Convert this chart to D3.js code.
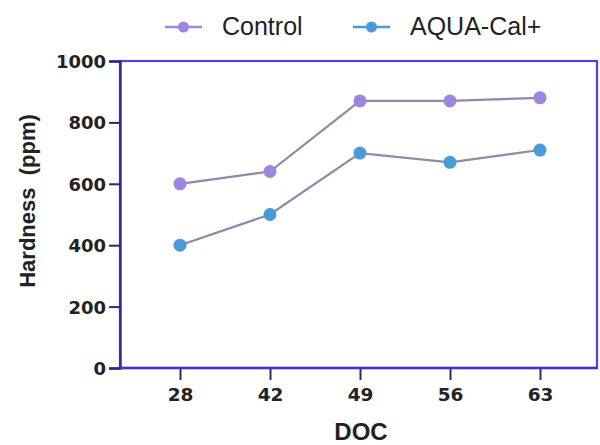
<!DOCTYPE html>
<html><head><meta charset="utf-8">
<script src="https://cdn.jsdelivr.net/npm/d3@7"></script>
<style>body{margin:0;background:#fff}svg{display:block}</style>
</head><body>
<svg id="c" width="600" height="445"></svg>
<script>
const categories = ["28","42","49","56","63"];
const control = [600, 640, 870, 870, 880];
const aqua = [400, 500, 700, 670, 710];
const yTicks = [0, 200, 400, 600, 800, 1000];
const seriesNames = ["Control", "AQUA-Cal+"];
const colors = ["#9b87e0", "#4a9ad8"];

const svg = d3.select("#c");
const m = {l:120, r:597, t:61, b:368};
const x = d3.scalePoint().domain(categories).range([180, 540]);
const y = d3.scaleLinear().domain([0,1000]).range([m.b, m.t]);
const tickFont = "DejaVu Sans, sans-serif";
const labFont = "Liberation Sans, Arial, sans-serif";

// frame
svg.append("rect").attr("x", m.l).attr("y", m.t).attr("width", m.r-m.l).attr("height", m.b-m.t)
  .attr("fill","#fff").attr("stroke","#4a44e0").attr("stroke-width",2.2);

// y axis
const ya = svg.append("g").attr("transform",`translate(${m.l},0)`)
  .call(d3.axisLeft(y).tickValues(yTicks).tickFormat(d3.format("d")).tickSize(11).tickPadding(3));
ya.select(".domain").attr("stroke","#2a2a9a").attr("stroke-width",2.4);
ya.selectAll(".tick line").attr("stroke","#2a2a6a").attr("stroke-width",2);
ya.selectAll("text").attr("font-family",tickFont).attr("font-weight","bold")
  .attr("font-size",18).attr("fill","#222").attr("dy","0.36em");

// x axis
const xa = svg.append("g").attr("transform",`translate(0,${m.b})`)
  .call(d3.axisBottom(x).tickSize(12).tickPadding(8));
xa.select(".domain").remove();
xa.selectAll(".tick line").attr("stroke","#2a2a6a").attr("stroke-width",2);
xa.selectAll("text").attr("font-family",tickFont).attr("font-weight","bold")
  .attr("font-size",18.5).attr("fill","#222");
svg.append("line").attr("x1",m.l).attr("x2",m.r).attr("y1",m.b).attr("y2",m.b)
  .attr("stroke","#3a36d0").attr("stroke-width",2.4);

// axis titles
svg.append("text").attr("x",361).attr("y",440).attr("text-anchor","middle")
  .attr("font-family",labFont).attr("font-weight","bold").attr("font-size",24).attr("fill","#222").text("DOC");
svg.append("text").attr("transform","translate(35,201) rotate(-90)").attr("text-anchor","middle")
  .style("white-space","pre")
  .attr("font-family",labFont).attr("font-weight","bold").attr("font-size",22).attr("fill","#222").text("Hardness  (ppm)");

// series
const data = [control, aqua];
const line = d3.line().x((d,i)=>x(categories[i])).y(d=>y(d));
data.forEach((s,k)=>{
  svg.append("path").datum(s).attr("d",line).attr("fill","none").attr("stroke","#8c8aa8").attr("stroke-width",2.2);
  svg.selectAll(null).data(s).enter().append("circle")
    .attr("cx",(d,i)=>x(categories[i])).attr("cy",d=>y(d)).attr("r",6.5).attr("fill",colors[k]);
});

// legend
const lg = [{x0:165, tx:222},{x0:353, tx:410}];
seriesNames.forEach((n,k)=>{
  const g = svg.append("g");
  g.append("line").attr("x1",lg[k].x0).attr("x2",lg[k].x0+37).attr("y1",27).attr("y2",27)
    .attr("stroke",colors[k]).attr("stroke-width",2.5);
  g.append("circle").attr("cx",lg[k].x0+18.5).attr("cy",27).attr("r",5.5).attr("fill",colors[k]);
  g.append("text").attr("x",lg[k].tx).attr("y",34.5).attr("font-family",labFont)
    .attr("font-size",25).attr("fill","#222").text(n);
});
</script>
</body></html>
